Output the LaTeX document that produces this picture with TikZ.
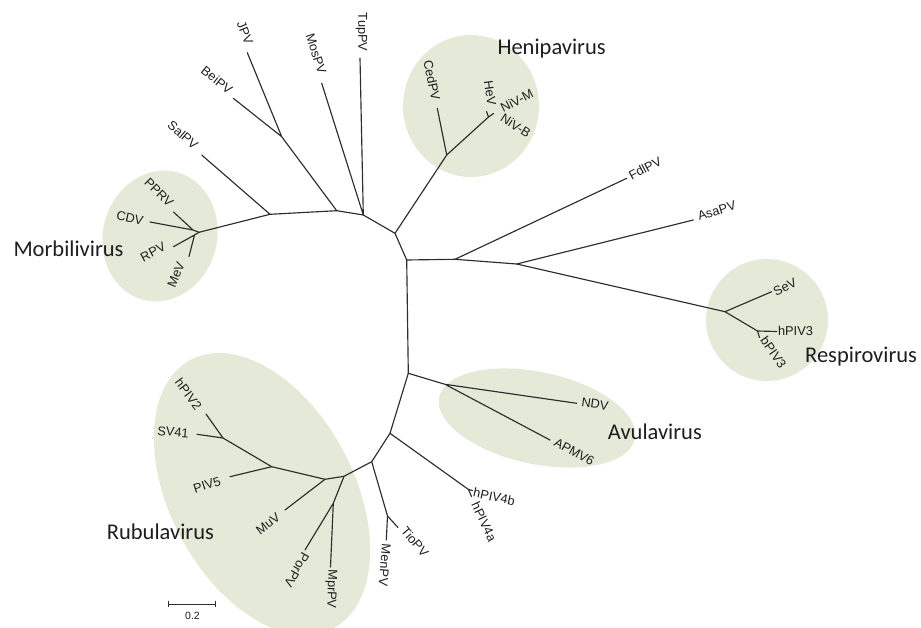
\documentclass[tikz,border=0pt]{standalone}
\usepackage{fontspec}
\setmainfont{Liberation Sans}
\newfontfamily\cladefont{Carlito}
\definecolor{groupc}{RGB}{229,233,215}
\definecolor{linec}{RGB}{45,45,45}
\definecolor{labelc}{RGB}{30,30,30}
\tikzset{
  leaf/.style={font=\fontsize{12.8}{14}\selectfont, text=labelc, inner sep=0pt},
  cladename/.style={font=\cladefont\fontsize{22.5}{26}\selectfont, text=labelc, inner sep=0pt, anchor=base west},
  branch/.style={draw=linec, line width=1.15pt, line cap=round, line join=round},
  group/.style={fill=groupc},
  scalebar/.style={draw=linec, line width=1pt}
}
\begin{document}
\begin{tikzpicture}[x=1pt,y=-1pt]
\useasboundingbox (0,0) rectangle (921,628);
% clade shading
\fill[group, rotate around={-15:(160,236)}] (160,236) ellipse [x radius=57pt, y radius=66pt];
\fill[group] (471,106) ellipse [x radius=68pt, y radius=71pt];
\fill[group] (767,320) circle [radius=61pt];
\fill[group, rotate around={-12:(537,418)}] (537,418) ellipse [x radius=100pt, y radius=46pt];
\fill[group, rotate around={-62:(262,494)}] (262,494) ellipse [x radius=152pt, y radius=92pt];
% tree coordinates
\coordinate (A) at (199,232.3);
\coordinate (mPC) at (193,230);
\coordinate (mRM) at (194.5,235);
\coordinate (tPPRV) at (173.5,212);
\coordinate (tCDV) at (150,222);
\coordinate (tRPV) at (173.5,246.7);
\coordinate (tMeV) at (189,256.5);
\coordinate (B) at (270,214.3);
\coordinate (tSalPV) at (201.7,155);
\coordinate (JB) at (281.7,136.7);
\coordinate (tJPV) at (247.3,52.7);
\coordinate (tBeiPV) at (233.3,98.3);
\coordinate (D) at (336.7,210.7);
\coordinate (tMosPV) at (321.7,83.3);
\coordinate (E) at (363.3,215);
\coordinate (tTupPV) at (360,58.3);
\coordinate (F) at (395,233.3);
\coordinate (Hn) at (446.7,155);
\coordinate (tCedPV) at (437.3,108.3);
\coordinate (HN) at (488.5,117);
\coordinate (tHeV) at (486.5,111.5);
\coordinate (tNiV) at (493.5,113.5);
\coordinate (G) at (406.7,260);
\coordinate (Fd) at (455,259.3);
\coordinate (tFdlPV) at (626.7,178.3);
\coordinate (As) at (516.7,264);
\coordinate (tAsaPV) at (693.3,220);
\coordinate (Re) at (725,311.7);
\coordinate (tSeV) at (771.7,291.7);
\coordinate (hb) at (757.5,331);
\coordinate (thPIV3) at (776.7,331.5);
\coordinate (tbPIV3) at (759.5,337.5);
\coordinate (H) at (408.3,373.3);
\coordinate (Av) at (445,384.3);
\coordinate (tNDV) at (576.7,403.3);
\coordinate (tAPMV6) at (550,440);
\coordinate (I) at (390,433.3);
\coordinate (Q) at (468.5,489.5);
\coordinate (thPIV4b) at (472.5,490.5);
\coordinate (thPIV4a) at (471.5,496.5);
\coordinate (J) at (371.7,461.7);
\coordinate (K) at (387.5,516);
\coordinate (tTioPV) at (398,527.5);
\coordinate (tMenPV) at (386.3,540);
\coordinate (L) at (344,476.3);
\coordinate (M) at (325,479.3);
\coordinate (tMuV) at (285,510);
\coordinate (O) at (271.7,466.7);
\coordinate (tPIV5) at (230,476.7);
\coordinate (P) at (223,438);
\coordinate (tSV41) at (197,434.3);
\coordinate (thPIV2) at (206,414);
\coordinate (N) at (333.3,503.3);
\coordinate (tPorPV) at (305,550);
\coordinate (tMprPV) at (330.5,567);
% backbone
\draw[branch] (A) -- (B) -- (D) -- (E) -- (F) -- (G) -- (H) -- (I) -- (J) -- (L) -- (M) -- (O) -- (P);
% branches
\draw[branch] (A) -- (mPC) (mPC) -- (tPPRV) (mPC) -- (tCDV);
\draw[branch] (A) -- (mRM) (mRM) -- (tRPV) (mRM) -- (tMeV);
\draw[branch] (B) -- (tSalPV);
\draw[branch] (D) -- (JB) (JB) -- (tJPV) (JB) -- (tBeiPV);
\draw[branch] (E) -- (tMosPV) (E) -- (tTupPV);
\draw[branch] (F) -- (Hn) (Hn) -- (tCedPV) (Hn) -- (HN) (HN) -- (tHeV) (HN) -- (tNiV);
\draw[branch] (G) -- (Fd) -- (As) -- (Re);
\draw[branch] (Fd) -- (tFdlPV) (As) -- (tAsaPV);
\draw[branch] (Re) -- (tSeV) (Re) -- (hb) (hb) -- (thPIV3) (hb) -- (tbPIV3);
\draw[branch] (H) -- (Av) (Av) -- (tNDV) (Av) -- (tAPMV6);
\draw[branch] (I) -- (Q) (Q) -- (thPIV4b) (Q) -- (thPIV4a);
\draw[branch] (J) -- (K) (K) -- (tTioPV) (K) -- (tMenPV);
\draw[branch] (L) -- (N) (N) -- (tPorPV) (N) -- (tMprPV);
\draw[branch] (M) -- (tMuV) (O) -- (tPIV5) (P) -- (tSV41) (P) -- (thPIV2);
% leaf labels
\node[leaf, rotate=-68] (lJPV) at (245,33) {JPV};
\node[leaf, rotate=-38] (lBeiPV) at (217,80) {BeiPV};
\node[leaf, rotate=-41] (lSalPV) at (183,135) {SalPV};
\node[leaf, rotate=-72] (lMosPV) at (316,54) {MosPV};
\node[leaf, rotate=-90] (lTupPV) at (361.5,32) {TupPV};
\node[leaf, rotate=-78] (lCedPV) at (432,80) {CedPV};
\node[leaf, rotate=-82] (lHeV) at (490,93) {HeV};
\node[leaf, rotate=27] (lNiVM) at (516.7,100.8) {NiV-M};
\node[leaf, rotate=-33] (lNiVB) at (515.8,125.8) {NiV-B};
\node[leaf, rotate=28] (lFdlPV) at (645,168.3) {FdlPV};
\node[leaf, rotate=17] (lAsaPV) at (716.7,210.8) {AsaPV};
\node[leaf, rotate=27] (lSeV) at (785,286.7) {SeV};
\node[leaf] (lhPIV3) at (795.5,331.3) {hPIV3};
\node[leaf, rotate=-55] (lbPIV3) at (773.5,352) {bPIV3};
\node[leaf, rotate=-8] (lNDV) at (595,404.2) {NDV};
\node[leaf, rotate=-29] (lAPMV6) at (574.2,451.7) {APMV6};
\node[leaf, rotate=-12] (lhPIV4b) at (494.2,496.7) {hPIV4b};
\node[leaf, rotate=-65] (lhPIV4a) at (484.2,521.7) {hPIV4a};
\node[leaf, rotate=-50] (lTioPV) at (415,541.7) {TioPV};
\node[leaf, rotate=-95] (lMenPV) at (384.7,565) {MenPV};
\node[leaf, rotate=-92] (lMprPV) at (331,589) {MprPV};
\node[leaf, rotate=-120] (lPorPV) at (296.7,570) {PorPV};
\node[leaf, rotate=38] (lMuV) at (268,524) {MuV};
\node[leaf, rotate=18] (lPIV5) at (207,485) {PIV5};
\node[leaf, rotate=-5] (lSV41) at (173,432) {SV41};
\node[leaf, rotate=-53] (lhPIV2) at (188.5,394) {hPIV2};
\node[leaf, rotate=-45] (lPPRV) at (159,192.5) {PPRV};
\node[leaf, rotate=-12] (lCDV) at (130,218) {CDV};
\node[leaf, rotate=28] (lRPV) at (153,252) {RPV};
\node[leaf, rotate=68] (lMeV) at (176,275) {MeV};
% clade names
\node[cladename] (cMorb) at (13.3,256.7) {Morbilivirus};
\node[cladename] (cHeni) at (497.3,54.3) {Henipavirus};
\node[cladename] (cResp) at (805,362.3) {Respirovirus};
\node[cladename] (cAvul) at (607.7,439) {Avulavirus};
\node[cladename] (cRubu) at (106.7,539.3) {Rubulavirus};
% scale bar
\coordinate (s1) at (168.5,604);
\coordinate (s2) at (215,604);
\draw[scalebar] (s1) -- (s2);
\draw[scalebar] (s1) ++(0,-3) -- ++(0,6);
\draw[scalebar] (s2) ++(0,-3) -- ++(0,6);
\node[font=\fontsize{10.5}{12}\selectfont, text=labelc, inner sep=0pt] (lscale) at (192.5,616) {0.2};
\end{tikzpicture}
\end{document}
